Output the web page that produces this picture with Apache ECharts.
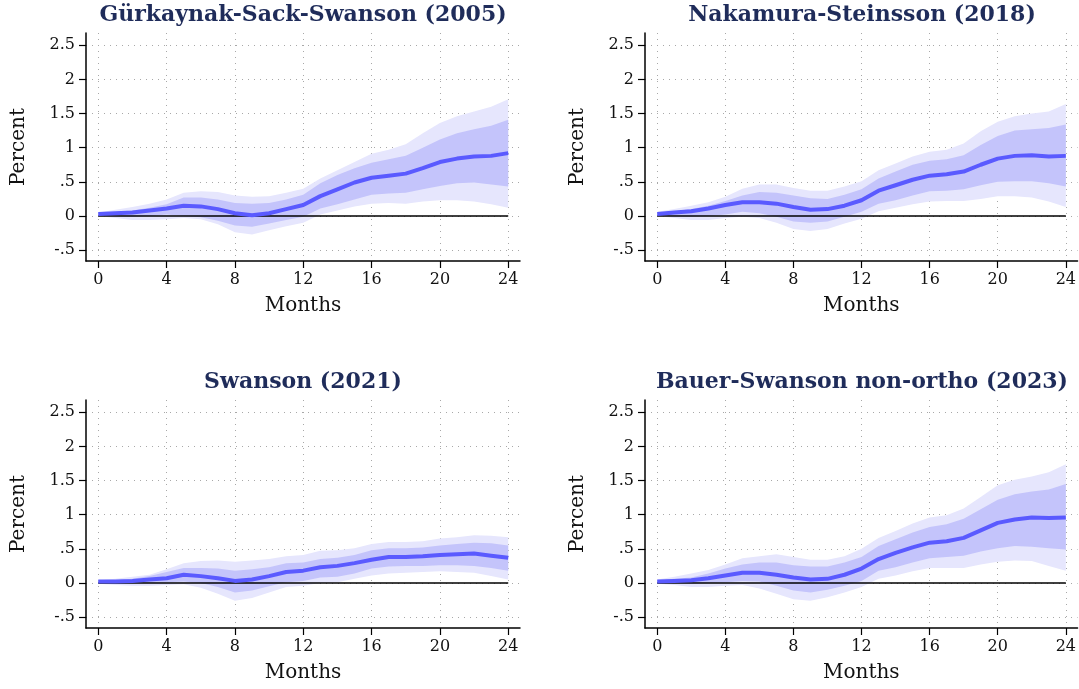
<!DOCTYPE html>
<html>
<head>
<meta charset="utf-8">
<title>Impulse responses</title>
<script src="https://cdn.jsdelivr.net/npm/echarts@6/dist/echarts.min.js"></script>
<style>
  html, body { margin: 0; padding: 0; background: #ffffff; }
  #chart { width: 1079px; height: 689px; }
</style>
</head>
<body>
<div id="chart"></div>
<script>
// Horizon in months and axis ticks
const months = [0,1,2,3,4,5,6,7,8,9,10,11,12,13,14,15,16,17,18,19,20,21,22,23,24];
const xTicks = [0,4,8,12,16,20,24];
const yTicks = [-0.5,0,0.5,1,1.5,2,2.5];

const panelTitles = [
  'Gürkaynak-Sack-Swanson (2005)',
  'Nakamura-Steinsson (2018)',
  'Swanson (2021)',
  'Bauer-Swanson non-ortho (2023)'
];

// Gürkaynak-Sack-Swanson (2005)
const gssIrf  = [0.03,0.04,0.05,0.08,0.11,0.15,0.14,0.10,0.04,0.01,0.04,0.10,0.16,0.29,0.39,0.49,0.56,0.59,0.62,0.70,0.79,0.84,0.87,0.88,0.92];
const gssLo68 = [0.00,0.00,-0.01,0.00,0.02,0.00,-0.02,-0.07,-0.14,-0.16,-0.11,-0.06,-0.01,0.11,0.17,0.24,0.31,0.33,0.34,0.39,0.44,0.48,0.49,0.46,0.43];
const gssHi68 = [0.05,0.06,0.08,0.12,0.17,0.27,0.27,0.24,0.19,0.18,0.19,0.24,0.31,0.48,0.60,0.70,0.78,0.83,0.88,1.00,1.12,1.21,1.27,1.32,1.41];
const gssLo90 = [0.00,-0.03,-0.06,-0.06,-0.05,-0.03,-0.05,-0.12,-0.24,-0.27,-0.21,-0.15,-0.10,0.02,0.08,0.14,0.18,0.19,0.18,0.21,0.23,0.23,0.21,0.17,0.12];
const gssHi90 = [0.05,0.09,0.13,0.18,0.24,0.34,0.36,0.35,0.30,0.28,0.29,0.34,0.40,0.55,0.67,0.79,0.91,0.97,1.05,1.21,1.36,1.46,1.53,1.60,1.71];

// Nakamura-Steinsson (2018)
const nsIrf  = [0.03,0.05,0.07,0.11,0.16,0.20,0.20,0.18,0.13,0.09,0.10,0.15,0.23,0.37,0.45,0.53,0.59,0.61,0.65,0.75,0.84,0.88,0.89,0.87,0.88];
const nsLo68 = [0.01,0.00,-0.01,0.00,0.02,0.06,0.04,-0.01,-0.08,-0.10,-0.08,-0.01,0.06,0.18,0.23,0.30,0.36,0.37,0.39,0.45,0.50,0.51,0.51,0.48,0.43];
const nsHi68 = [0.05,0.07,0.10,0.15,0.22,0.30,0.35,0.34,0.30,0.26,0.25,0.31,0.39,0.55,0.65,0.75,0.81,0.83,0.89,1.04,1.17,1.25,1.27,1.29,1.34];
const nsLo90 = [0.00,-0.03,-0.06,-0.06,-0.03,-0.01,-0.03,-0.10,-0.19,-0.22,-0.19,-0.11,-0.04,0.07,0.12,0.17,0.21,0.22,0.22,0.25,0.29,0.29,0.27,0.21,0.13];
const nsHi90 = [0.06,0.10,0.15,0.20,0.28,0.40,0.46,0.46,0.41,0.37,0.37,0.43,0.51,0.67,0.77,0.87,0.94,0.97,1.06,1.24,1.38,1.46,1.50,1.53,1.64];

// Swanson (2021)
const swIrf  = [0.02,0.02,0.03,0.05,0.07,0.12,0.10,0.07,0.03,0.05,0.10,0.16,0.18,0.23,0.25,0.29,0.34,0.38,0.38,0.39,0.41,0.42,0.43,0.40,0.37];
const swLo68 = [0.00,0.00,0.00,0.00,0.01,0.02,0.00,-0.06,-0.14,-0.11,-0.05,0.01,0.03,0.08,0.09,0.14,0.21,0.24,0.25,0.25,0.26,0.26,0.25,0.22,0.18];
const swHi68 = [0.03,0.04,0.06,0.10,0.16,0.22,0.22,0.21,0.18,0.20,0.23,0.29,0.30,0.35,0.37,0.41,0.48,0.51,0.51,0.52,0.55,0.57,0.59,0.58,0.55];
const swLo90 = [-0.01,-0.03,-0.04,-0.04,-0.03,-0.02,-0.07,-0.16,-0.26,-0.22,-0.14,-0.06,-0.04,0.00,0.01,0.06,0.11,0.14,0.15,0.16,0.17,0.16,0.15,0.10,0.05];
const swHi90 = [0.04,0.06,0.09,0.12,0.20,0.29,0.32,0.33,0.31,0.33,0.35,0.39,0.41,0.47,0.48,0.51,0.57,0.60,0.60,0.61,0.65,0.67,0.70,0.69,0.67];

// Bauer-Swanson non-orthogonalized (2023)
const bsIrf  = [0.02,0.03,0.04,0.07,0.11,0.15,0.15,0.12,0.08,0.05,0.06,0.12,0.21,0.35,0.44,0.52,0.59,0.61,0.66,0.77,0.88,0.93,0.96,0.95,0.96];
const bsLo68 = [0.00,0.00,-0.01,0.00,0.01,0.03,0.02,-0.04,-0.11,-0.14,-0.10,-0.04,0.03,0.18,0.23,0.30,0.36,0.38,0.40,0.46,0.51,0.54,0.53,0.51,0.49];
const bsHi68 = [0.04,0.06,0.08,0.14,0.21,0.27,0.30,0.30,0.26,0.24,0.24,0.30,0.38,0.54,0.64,0.74,0.82,0.86,0.94,1.08,1.22,1.30,1.34,1.37,1.45];
const bsLo90 = [-0.01,-0.03,-0.06,-0.06,-0.04,-0.03,-0.08,-0.16,-0.24,-0.26,-0.21,-0.14,-0.06,0.06,0.11,0.17,0.22,0.22,0.22,0.27,0.31,0.33,0.32,0.25,0.18];
const bsHi90 = [0.05,0.09,0.14,0.19,0.27,0.36,0.39,0.42,0.38,0.34,0.34,0.39,0.50,0.66,0.76,0.87,0.96,0.99,1.09,1.26,1.43,1.51,1.56,1.62,1.74];

const panels = [
  { irf: gssIrf, lo68: gssLo68, hi68: gssHi68, lo90: gssLo90, hi90: gssHi90 },
  { irf: nsIrf,  lo68: nsLo68,  hi68: nsHi68,  lo90: nsLo90,  hi90: nsHi90 },
  { irf: swIrf,  lo68: swLo68,  hi68: swHi68,  lo90: swLo90,  hi90: swHi90 },
  { irf: bsIrf,  lo68: bsLo68,  hi68: bsHi68,  lo90: bsLo90,  hi90: bsHi90 }
];

// Layout of the 2x2 panel grid (pixels)
const gridBoxes = [
  { left: 86,  top: 33,  width: 434, height: 228 },
  { left: 645, top: 33,  width: 434, height: 228 },
  { left: 86,  top: 400, width: 434, height: 228 },
  { left: 645, top: 400, width: 434, height: 228 }
];

const SERIF = '"DejaVu Serif", "Liberation Serif", serif';
const LINE_COLOR = '#5a5aff';
const BAND68 = '#c4c4fb';
const BAND90 = '#e6e6fd';
const TITLE_COLOR = '#1f2c5a';
const GRID_DOTS = { color: '#a8a8a8', width: 1, type: [1, 5] };

function stataNum(v) {
  if (v === 0) return '0';
  return String(v).replace(/^(-?)0\./, '$1.');
}

// Confidence band as a filled polygon between lower and upper bounds,
// positioned through the panel's own axes.
function bandSeries(i, lo, hi, color) {
  const rows = months.map((m, k) => [m, lo[k], hi[k]]);
  return {
    type: 'custom', xAxisIndex: i, yAxisIndex: i, silent: true, z: 1,
    data: rows,
    encode: { x: 0, y: [1, 2] },
    renderItem: function (params, api) {
      if (params.dataIndex !== 0) return null;
      const upper = rows.map(r => api.coord([r[0], r[2]]));
      const lower = rows.slice().reverse().map(r => api.coord([r[0], r[1]]));
      return {
        type: 'polygon',
        shape: { points: upper.concat(lower) },
        style: { fill: color, stroke: null }
      };
    }
  };
}

const grid = [], xAxis = [], yAxis = [], title = [], series = [];

gridBoxes.forEach((g, i) => {
  grid.push(Object.assign({ containLabel: false }, g));

  title.push({
    text: panelTitles[i],
    left: g.left + g.width / 2,
    top: g.top - 29,
    textAlign: 'center',
    padding: 0,
    textStyle: { fontFamily: SERIF, fontWeight: 'bold', fontSize: 22, color: TITLE_COLOR }
  });

  xAxis.push({
    type: 'value', gridIndex: i, min: -0.72, max: 24.69,
    name: 'Months', nameLocation: 'middle', nameGap: 35,
    nameTextStyle: { fontFamily: SERIF, fontSize: 20, color: '#111' },
    axisLine: { show: true, onZero: false, lineStyle: { color: '#000', width: 1.5 } },
    axisTick: { show: true, length: 7, customValues: xTicks, lineStyle: { color: '#000', width: 1.2 } },
    axisLabel: { customValues: xTicks, margin: 11, fontFamily: SERIF, fontSize: 16, color: '#111' },
    splitLine: { show: true, lineStyle: GRID_DOTS }
  });

  yAxis.push({
    type: 'value', gridIndex: i, min: -0.66, max: 2.68,
    name: 'Percent', nameLocation: 'middle', nameGap: 57, nameRotate: 90,
    nameTextStyle: { fontFamily: SERIF, fontSize: 20, color: '#111' },
    axisLine: { show: true, onZero: false, lineStyle: { color: '#000', width: 1.5 } },
    axisTick: { show: true, length: 7, customValues: yTicks, lineStyle: { color: '#000', width: 1.2 } },
    axisLabel: { customValues: yTicks, margin: 11, fontFamily: SERIF, fontSize: 16, color: '#111',
                 formatter: stataNum },
    splitLine: { show: true, lineStyle: GRID_DOTS }
  });

  const p = panels[i];
  series.push(bandSeries(i, p.lo90, p.hi90, BAND90));
  series.push(bandSeries(i, p.lo68, p.hi68, BAND68));

  // zero reference line across the horizon
  series.push({
    type: 'line', xAxisIndex: i, yAxisIndex: i,
    data: [[months[0], 0], [months[months.length - 1], 0]],
    symbol: 'none', silent: true, lineStyle: { color: '#000', width: 1.6 }, z: 3
  });

  // point estimate
  series.push({
    type: 'line', xAxisIndex: i, yAxisIndex: i,
    data: months.map((m, k) => [m, p.irf[k]]),
    symbol: 'none', silent: true, lineStyle: { color: LINE_COLOR, width: 4, join: 'round' }, z: 4
  });
});

const chart = echarts.init(document.getElementById('chart'), null, { renderer: 'canvas' });
chart.setOption({
  animation: false,
  backgroundColor: '#ffffff',
  title, grid, xAxis, yAxis, series
});
</script>
</body>
</html>
